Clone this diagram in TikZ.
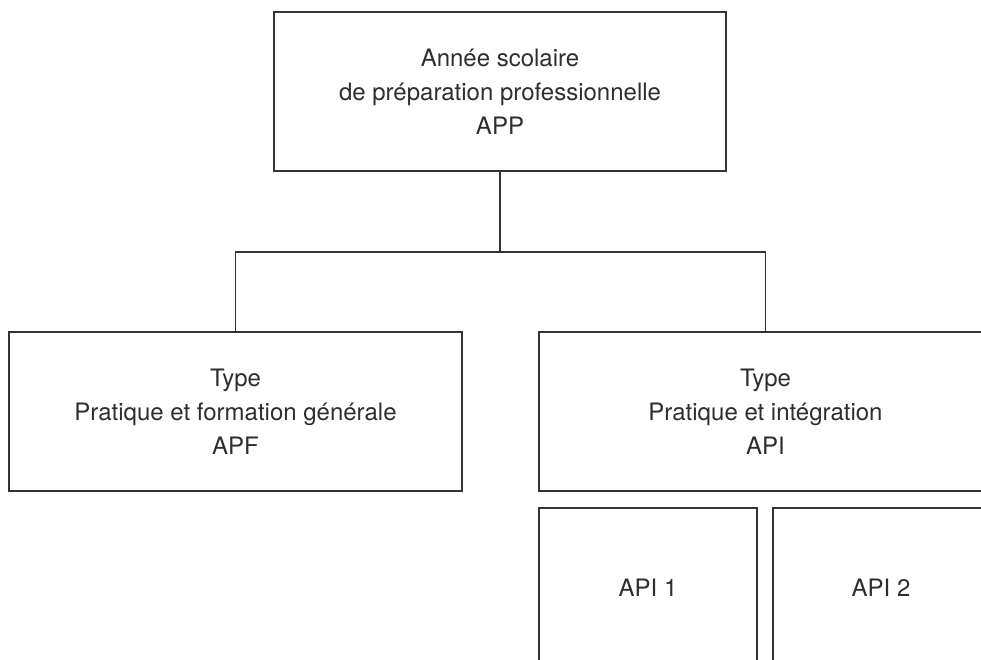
\documentclass[tikz,border=0pt]{standalone}
\usepackage{fontspec}
\setmainfont{TeX Gyre Heros}
\definecolor{linegray}{HTML}{333333}
\definecolor{textgray}{HTML}{2E2E2E}
\begin{document}
\begin{tikzpicture}[x=1pt,y=1pt,
  box/.style={draw=linegray, line width=1.3pt, rectangle, align=center, inner sep=0pt,
    text=textgray, font=\fontsize{24}{34}\selectfont},
  conn/.style={draw=linegray, line width=1.3pt}]
\useasboundingbox (0,0) rectangle (981,-660);
\fill[white] (0,0) rectangle (981,-660);
\node[box, minimum width=452pt, minimum height=159pt] (top) at (500,-91.5)
  {Année scolaire\\de préparation professionnelle\\APP};
\node[box, minimum width=453pt, minimum height=159pt] (apf) at (235.5,-411.5)
  {Type\\Pratique et formation générale\\APF};
\node[box, minimum width=453pt, minimum height=159pt] (api) at (765.5,-411.5)
  {Type\\Pratique et intégration\\API};
\node[box, minimum width=218pt, minimum height=160pt] (api1) at (648,-588) {API 1};
\node[box, minimum width=216pt, minimum height=160pt] (api2) at (881,-588) {API 2};
\coordinate (j) at (500,-252);
\draw[conn] (top.south) -- (j);
\draw[conn] (apf.north) |- (j) -| (api.north);
\end{tikzpicture}
\end{document}
